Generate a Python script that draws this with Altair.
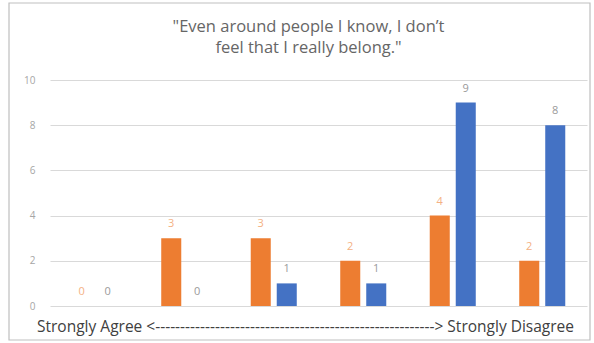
import altair as alt
import pandas as pd

categories = ["1", "2", "3", "4", "5", "6"]
series = ["Orange", "Blue"]
orange_values = [0, 3, 3, 2, 4, 2]
blue_values = [0, 0, 1, 1, 9, 8]
y_ticks = [0, 2, 4, 6, 8, 10]

rows = []
for c, o, b in zip(categories, orange_values, blue_values):
    rows.append({"cat": c, "series": "Orange", "value": o})
    rows.append({"cat": c, "series": "Blue", "value": b})
df = pd.DataFrame(rows)

FONT = "Open Sans"
W, H = 537, 226

x_enc = alt.X("cat:N", sort=categories,
              scale=alt.Scale(paddingInner=0, paddingOuter=0),
              axis=alt.Axis(labels=False, ticks=False, domain=False, grid=False,
                            title="Strongly Agree <" + "-" * 56 + "> Strongly Disagree",
                            titleFont=FONT, titleFontSize=15.5, titleFontWeight="normal",
                            titleColor="#404040", titleX=255, titleY=25,
                            titleAlign="center", titleBaseline="alphabetic"))
xo_enc = alt.XOffset("series:N", sort=series,
                     scale=alt.Scale(paddingInner=0.23, paddingOuter=0.836))
y_enc = alt.Y("value:Q", scale=alt.Scale(domain=[0, 10], nice=False),
              axis=alt.Axis(values=y_ticks, title=None, ticks=False, domain=False,
                            labelFont=FONT, labelFontSize=10, labelColor="#a6a6a6",
                            labelPadding=15, gridColor="#d9d9d9", gridWidth=1))

bars = alt.Chart(df).mark_bar().encode(
    x=x_enc, xOffset=xo_enc, y=y_enc,
    color=alt.Color("series:N", sort=series,
                    scale=alt.Scale(domain=series, range=["#ED7D31", "#4472C4"]),
                    legend=None),
)

labels = alt.Chart(df).mark_text(baseline="bottom", dy=-9, font=FONT, fontSize=11).encode(
    x=alt.X("cat:N", sort=categories), xOffset=alt.XOffset("series:N", sort=series),
    y="value:Q",
    text="value:Q",
    color=alt.Color("series:N", sort=series,
                    scale=alt.Scale(domain=series, range=["#f4b183", "#9a9a9a"]),
                    legend=None),
)

frame = alt.Chart(pd.DataFrame({"k": [0]})).mark_rect(
    fill=None, stroke="#bfbfbf", strokeWidth=1.2
).encode(
    x=alt.value(-41), x2=alt.value(540), y=alt.value(-77), y2=alt.value(260)
)

chart = alt.layer(frame, bars, labels).resolve_scale(color="independent").properties(
    width=W, height=H,
    title=alt.Title(
        text=["\"Even around people I know, I don\u2019t", "feel that I really belong.\""],
        font=FONT, fontSize=16.5, fontWeight="normal", color="#666666",
        anchor="middle", frame="group", offset=-54, dx=-10, lineHeight=21,
    ),
    autosize=alt.AutoSizeParams(type="none"),
    padding={"left": 50, "top": 80, "right": 7, "bottom": 37},
    background="white",
).configure_view(stroke=None)

chart.save("out.html", embed_options={"renderer": "svg", "actions": False})
